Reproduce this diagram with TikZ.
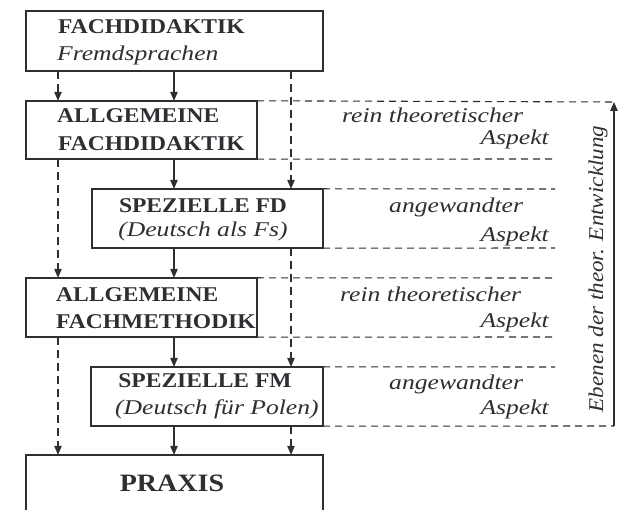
\documentclass[tikz,border=0pt]{standalone}
\usepackage{fontspec}
\setmainfont{Liberation Serif}
\newfontfamily\bfam{Liberation Serif}[FakeStretch=1.12]
\newfontfamily\ifam{Liberation Serif}[FakeStretch=1.22]
\newfontfamily\rfam{Liberation Serif}[FakeStretch=1.1]
\usetikzlibrary{arrows.meta}
\definecolor{ink}{HTML}{2E2E33}
\begin{document}
\begin{tikzpicture}[x=1pt,y=-1pt,
  box/.style={draw=ink,line width=1.3pt},
  btxt/.style={inner sep=0pt,text=ink,font=\bfam\bfseries\fontsize{21}{25}\selectfont},
  itxt/.style={inner sep=0pt,text=ink,font=\ifam\itshape\fontsize{21}{25}\selectfont},
  sarr/.style={draw=ink,line width=1.1pt,-{Triangle[length=9pt,width=7.5pt]}},
  darr/.style={draw=ink,line width=1.1pt,dash pattern=on 8pt off 5pt,-{Triangle[length=9pt,width=7.5pt]}},
  dline/.style={draw=ink,line width=1.1pt,dash pattern=on 7pt off 5pt}]
\useasboundingbox (0,0) rectangle (619,510);
\clip (0,0) rectangle (619,510);
\fill[white] (0,0) rectangle (619,510);
% boxes
\path[box] (26,11) rectangle (323,71);
\node[inner sep=0pt,minimum width=297pt,minimum height=60pt] (b1) at (174.5,41) {};
\path[box] (26,101) rectangle (257,159);
\node[inner sep=0pt,minimum width=231pt,minimum height=58pt] (b2) at (141.5,130) {};
\path[box] (92,189) rectangle (323,248);
\node[inner sep=0pt,minimum width=231pt,minimum height=59pt] (b3) at (207.5,218.5) {};
\path[box] (26,278) rectangle (257,337);
\node[inner sep=0pt,minimum width=231pt,minimum height=59pt] (b4) at (141.5,307.5) {};
\path[box] (91,367) rectangle (323,426);
\node[inner sep=0pt,minimum width=232pt,minimum height=59pt] (b5) at (207,396.5) {};
\path[box] (26,455) rectangle (323,530);
\node[inner sep=0pt,minimum width=297pt,minimum height=75pt] (b6) at (174.5,492.5) {};
% texts in boxes
\node[btxt,anchor=base west] (t1a) at (58,34) {FACHDIDAKTIK};
\node[itxt,anchor=base west] (t1b) at (57,61) {Fremdsprachen};
\node[btxt,anchor=base west] (t2a) at (57,123) {ALLGEMEINE};
\node[btxt,anchor=base west] (t2b) at (58,151) {FACHDIDAKTIK};
\node[btxt,anchor=base] (t3a) at (203,213) {SPEZIELLE FD};
\node[itxt,anchor=base] (t3b) at (203,237) {(Deutsch als Fs)};
\node[btxt,anchor=base west] (t4a) at (56,302) {ALLGEMEINE};
\node[btxt,anchor=base west] (t4b) at (56,329) {FACHMETHODIK};
\node[btxt,anchor=base] (t5a) at (205,388) {SPEZIELLE FM};
\node[itxt,anchor=base west] (t5b) at (115,415) {(Deutsch für Polen)};
\node[btxt,anchor=base,font=\bfam\bfseries\fontsize{25}{30}\selectfont] (t6) at (172,492) {PRAXIS};
% right labels
\node[itxt,anchor=base west] (r1a) at (342,123) {rein theoretischer};
\node[itxt,anchor=base east] (r1b) at (549,145) {Aspekt};
\node[itxt,anchor=base west] (r2a) at (389,213) {angewandter};
\node[itxt,anchor=base east] (r2b) at (549,242) {Aspekt};
\node[itxt,anchor=base west] (r3a) at (340,302) {rein theoretischer};
\node[itxt,anchor=base east] (r3b) at (549,328) {Aspekt};
\node[itxt,anchor=base west] (r4a) at (389,390) {angewandter};
\node[itxt,anchor=base east] (r4b) at (549,415) {Aspekt};
\node[inner sep=0pt,text=ink,rotate=90,font=\rfam\itshape\fontsize{21}{25}\selectfont] (rot) at (598,269) {Ebenen der theor. Entwicklung};
% column coordinates
\coordinate (cL) at (58,0);
\coordinate (cM) at (174,0);
\coordinate (cR) at (291,0);
% dashed horizontals
\coordinate (aTop) at (614,102);
\coordinate (aBot) at (614,426);
\coordinate (e1) at (555,159);
\coordinate (e2) at (555,189);
\coordinate (e3) at (555,248);
\coordinate (e4) at (555,278);
\coordinate (e5) at (555,337);
\coordinate (e6) at (555,367);
\draw[dline] (b2.north east) -- (aTop);
\draw[dline] (b2.south east) -- (e1);
\draw[dline] (b3.north east) -- (e2);
\draw[dline] (b3.south east) -- (e3);
\draw[dline] (b4.north east) -- (e4);
\draw[dline] (b4.south east) -- (e5);
\draw[dline] (b5.north east) -- (e6);
\draw[dline] (b5.south east) -- (aBot);
\draw[sarr] (aBot) -- (aTop);
% middle solid arrows
\draw[sarr] (b1.south -| cM) -- (b2.north -| cM);
\draw[sarr] (b2.south -| cM) -- (b3.north -| cM);
\draw[sarr] (b3.south -| cM) -- (b4.north -| cM);
\draw[sarr] (b4.south -| cM) -- (b5.north -| cM);
\draw[sarr] (b5.south -| cM) -- (b6.north -| cM);
% left dashed arrows
\draw[darr] (b1.south -| cL) -- (b2.north -| cL);
\draw[darr] (b2.south -| cL) -- (b4.north -| cL);
\draw[darr] (b4.south -| cL) -- (b6.north -| cL);
% right dashed arrows
\draw[darr] (b1.south -| cR) -- (b3.north -| cR);
\draw[darr] (b3.south -| cR) -- (b5.north -| cR);
\draw[darr] (b5.south -| cR) -- (b6.north -| cR);
\end{tikzpicture}
\end{document}
